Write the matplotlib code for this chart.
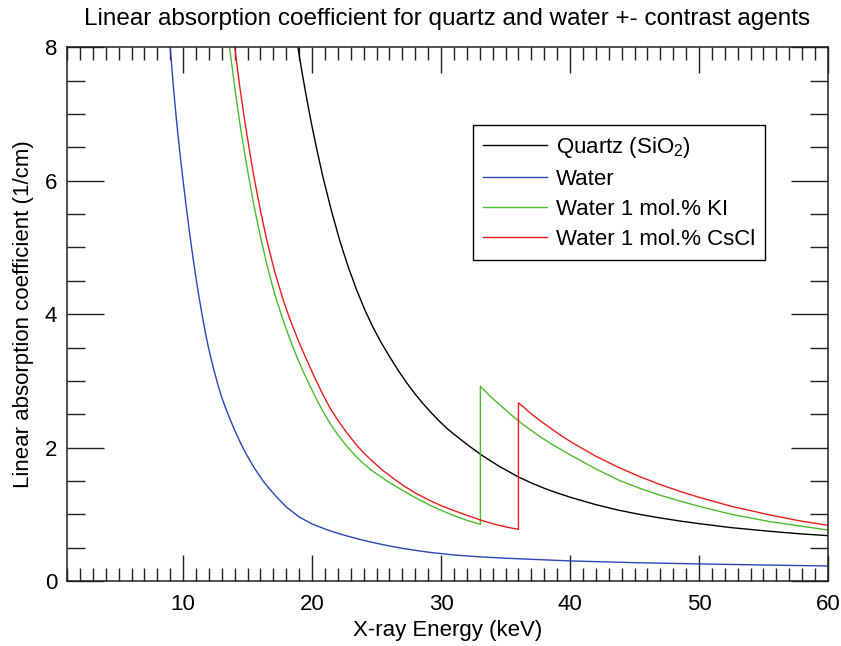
import matplotlib
matplotlib.use('agg')
import matplotlib.pyplot as plt
from matplotlib.ticker import MultipleLocator

plt.rcParams['font.family'] = ['Liberation Sans', 'DejaVu Sans']
plt.rcParams['mathtext.fontset'] = 'custom'
plt.rcParams['mathtext.rm'] = 'Liberation Sans'
plt.rcParams['mathtext.it'] = 'Liberation Sans:italic'

# values (energy in keV, mu in 1/cm)
E_quartz = [18.9, 19.2, 19.5, 19.75, 20.0, 20.4, 20.85, 21.5, 22.15, 22.8, 23.44, 24.1,
            24.73, 25.4, 26.05, 26.7, 27.34, 28.0, 28.6, 29.25, 29.9, 30.5, 31.2, 32.2,
            33.2, 34.5, 36.0, 37.0, 38.0, 39.0, 40.2, 42.0, 43.8, 45.5, 47.0, 48.5,
            50.0, 52.5, 55.5, 58.0, 60.0]
mu_quartz = [8.0, 7.65, 7.32, 7.06, 6.81, 6.44, 6.05, 5.55, 5.1, 4.71, 4.37, 4.06,
             3.8, 3.56, 3.35, 3.15, 2.97, 2.8, 2.66, 2.52, 2.39, 2.28, 2.17, 2.02,
             1.88, 1.72, 1.56, 1.47, 1.39, 1.32, 1.245, 1.145, 1.06, 0.995, 0.945, 0.9,
             0.86, 0.8, 0.745, 0.705, 0.68]

E_water = [9.0, 9.25, 9.5, 9.75, 10.0, 10.25, 10.5, 10.75, 11.0, 11.25, 11.5, 11.75,
           12.0, 12.35, 12.7, 13.0, 13.3, 13.65, 14.0, 14.45, 14.9, 15.5, 16.2, 16.7,
           17.2, 18.0, 19.0, 20.0, 21.2, 22.0, 22.9, 24.0, 25.0, 26.0, 27.0, 28.0,
           29.1, 31.0, 33.0, 35.0, 36.9, 40.2, 45.0, 50.3, 55.0, 60.0]
mu_water = [8.0, 7.4, 6.88, 6.42, 6.0, 5.6, 5.22, 4.87, 4.54, 4.24, 3.96, 3.7,
            3.47, 3.19, 2.94, 2.75, 2.59, 2.42, 2.26, 2.07, 1.9, 1.7, 1.5, 1.38,
            1.27, 1.11, 0.96, 0.855, 0.765, 0.715, 0.665, 0.61, 0.565, 0.525, 0.49, 0.46,
            0.43, 0.39, 0.362, 0.342, 0.326, 0.3, 0.275, 0.255, 0.24, 0.225]

E_ki = [13.6, 14.05, 14.5, 15.0, 15.5, 16.0, 16.5, 17.1, 17.75, 18.27, 18.9, 19.5,
        20.2, 20.85, 21.4, 22.0, 22.7, 23.44, 24.0, 24.6, 25.2, 25.8, 26.4, 27.0,
        28.0, 29.1, 30.0, 31.0, 32.0, 33.05,
        33.05, 33.75, 34.5, 35.5, 36.4, 36.9, 37.7, 38.5, 39.3, 40.2, 42.0, 43.8,
        45.4, 47.0, 48.5, 50.0, 52.5, 55.5, 58.0, 60.0]
mu_ki = [8.0, 7.33, 6.73, 6.15, 5.62, 5.16, 4.74, 4.3, 3.91, 3.63, 3.32, 3.06,
         2.78, 2.54, 2.36, 2.19, 2.02, 1.86, 1.76, 1.66, 1.58, 1.5, 1.43, 1.36,
         1.25, 1.14, 1.06, 0.98, 0.91, 0.85,
         2.92, 2.78, 2.65, 2.48, 2.34, 2.27, 2.16, 2.06, 1.97, 1.87, 1.68, 1.51,
         1.39, 1.285, 1.2, 1.12, 1.0, 0.89, 0.82, 0.765]

E_cscl = [14.0, 14.4, 14.8, 15.15, 15.5, 16.0, 16.5, 17.1, 17.7, 18.27, 18.9, 19.5,
          20.2, 20.85, 21.4, 22.0, 22.7, 23.44, 24.0, 24.6, 25.5, 26.5, 27.2, 28.0,
          29.1, 30.0, 31.0, 32.0, 33.05, 33.8, 34.5, 35.3, 36.0,
          36.0, 36.45, 36.9, 37.7, 38.5, 39.3, 40.2, 42.0, 43.8, 45.4, 47.0, 48.5,
          50.0, 52.5, 55.5, 58.0, 60.0]
mu_cscl = [8.0, 7.4, 6.87, 6.45, 6.05, 5.55, 5.1, 4.64, 4.25, 3.93, 3.62, 3.35,
           3.05, 2.79, 2.59, 2.41, 2.22, 2.04, 1.92, 1.81, 1.655, 1.51, 1.415, 1.32,
           1.21, 1.13, 1.055, 0.985, 0.915, 0.87, 0.835, 0.8, 0.775,
           2.67, 2.6, 2.52, 2.4, 2.29, 2.18, 2.07, 1.87, 1.7, 1.565, 1.445, 1.345,
           1.255, 1.12, 0.99, 0.895, 0.835]

fig = plt.figure(figsize=(8.41, 6.46), dpi=100)
ax = fig.add_axes([0.0797, 0.1006, 0.9048, 0.8262])

ax.plot(E_quartz, mu_quartz, color='black', lw=1.0, label='Quartz (SiO$_2$)')
ax.plot(E_water, mu_water, color='#2a46b5', lw=1.0, label='Water')
ax.plot(E_ki, mu_ki, color='#4cbb2c', lw=1.0, label='Water 1 mol.% KI')
ax.plot(E_cscl, mu_cscl, color='#ee1c1c', lw=1.0, label='Water 1 mol.% CsCl')

ax.set_xlim(1, 60)
ax.set_ylim(0, 8)
ax.xaxis.set_major_locator(MultipleLocator(10))
ax.xaxis.set_minor_locator(MultipleLocator(1))
ax.yaxis.set_major_locator(MultipleLocator(2))
ax.yaxis.set_minor_locator(MultipleLocator(0.5))

ax.tick_params(axis='both', which='both', direction='in', top=True, right=True,
               color='#222222', width=1.0, labelsize=16)
ax.tick_params(axis='x', which='major', length=19, pad=9)
ax.tick_params(axis='x', which='minor', length=9.5)
ax.tick_params(axis='y', which='major', length=26.5, pad=7)
ax.tick_params(axis='y', which='minor', length=13)
for s in ax.spines.values():
    s.set_linewidth(1.1)
    s.set_color('#222222')

ax.set_xlabel('X-ray Energy (keV)', fontsize=16, labelpad=4)
ax.set_ylabel('Linear absorption coefficient (1/cm)', fontsize=16, labelpad=8)
ax.set_title('Linear absorption coefficient for quartz and water +- contrast agents',
             fontsize=17.5, pad=16)

leg = ax.legend(loc='upper left', bbox_to_anchor=(0.534, 0.854), borderaxespad=0,
                fontsize=16, fancybox=False, edgecolor='black', framealpha=1,
                handlelength=2.85, handletextpad=0.4, labelspacing=0.4,
                borderpad=0.45)
leg.get_frame().set_linewidth(1.0)

fig.savefig('out.png', dpi=100)
